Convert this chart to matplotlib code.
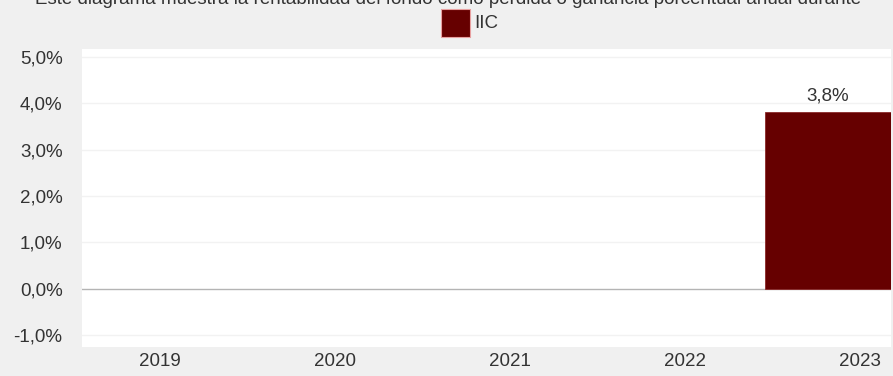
import matplotlib
matplotlib.use("Agg")
import matplotlib.pyplot as plt

# datos
años = ["2019", "2020", "2021", "2022", "2023"]
rentabilidad_iic = [None, None, None, None, 3.8]
ticks_y = [-1, 0, 1, 2, 3, 4, 5]

titulo = ("Este diagrama muestra la rentabilidad del fondo como pérdida "
          "o ganancia porcentual anual durante")

plt.rcParams["font.family"] = ["Liberation Sans", "DejaVu Sans"]
color_texto = "#333333"
color_barra = "#660000"

fig = plt.figure(figsize=(8.93, 3.76), dpi=100, facecolor="#f0f0f0")
ax = fig.add_axes([82 / 893, 1 - 347 / 376, (891 - 82) / 893, (347 - 49) / 376])
ax.set_facecolor("white")

posiciones = list(range(len(años)))
for x, v in zip(posiciones, rentabilidad_iic):
    if v is None:
        continue
    ax.bar(x - 0.543, v, width=0.72, align="edge", color=color_barra,
           edgecolor="#8a2a2a", linewidth=0.6, zorder=3)
    ax.text(x - 0.183, v + 0.17, f"{v:.1f}%".replace(".", ","), ha="center",
            va="bottom", fontsize=13.5, color=color_texto)

ax.set_xlim(-0.446, 4.177)
ax.set_ylim(-1.26, 5.17)
ax.set_yticks(ticks_y)
ax.set_yticklabels([f"{t:.1f}%".replace(".", ",") for t in ticks_y])
ax.set_xticks(posiciones)
ax.set_xticklabels(años)
ax.tick_params(axis="both", length=0, labelsize=13.5, labelcolor=color_texto)
ax.tick_params(axis="y", pad=14)
ax.tick_params(axis="x", pad=4)

for t in ticks_y:
    if t == 0:
        ax.axhline(t, color="#b4b4b4", linewidth=1, zorder=2)
    else:
        ax.axhline(t, color="#f2f2f2", linewidth=1, zorder=1)

for s in ax.spines.values():
    s.set_visible(False)

# leyenda
fig.patches.append(plt.Rectangle((441 / 893, 1 - 37 / 376), 29 / 893, 28 / 376,
                                 transform=fig.transFigure, facecolor=color_barra,
                                 edgecolor="#e8a0a0", linewidth=0.8))
fig.text(474 / 893, 1 - 23 / 376, "IIC", ha="left", va="center",
         fontsize=13.5, color=color_texto)

# titulo cortado en la parte superior, como en el original
fig.text(448 / 893, 1 - 4 / 376, titulo, ha="center", va="baseline",
         fontsize=13.5, color=color_texto)

fig.savefig("out.png", dpi=100, facecolor=fig.get_facecolor())
